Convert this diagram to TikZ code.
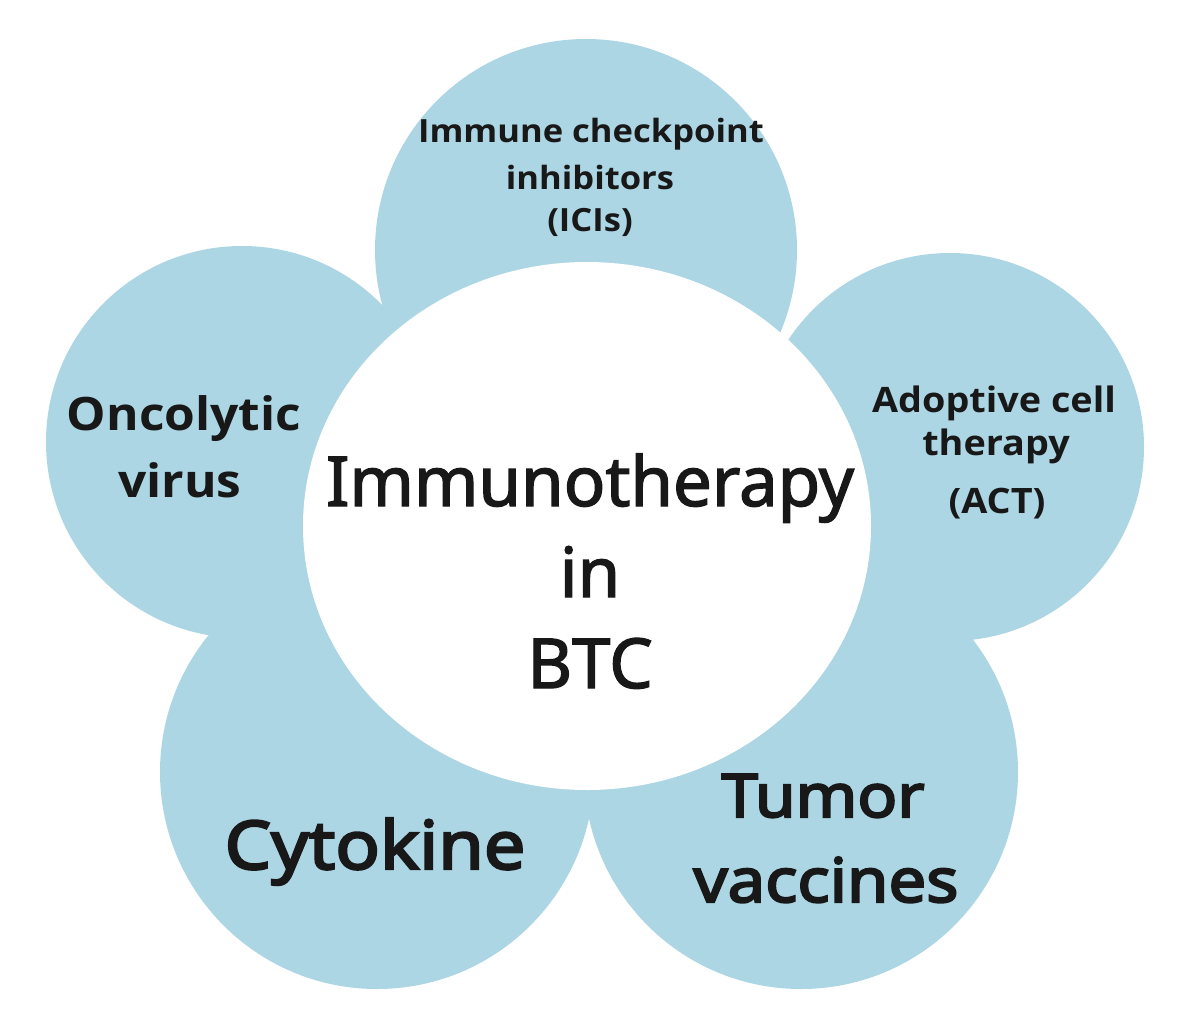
\documentclass[tikz,border=0pt]{standalone}
\usepackage{fontspec}
\setmainfont{Noto Sans}
\newfontfamily\hfont[FakeStretch=1.08]{Open Sans}
\newfontfamily\gfont[FakeBold=2]{Noto Sans}
\newfontfamily\gmfont[FakeStretch=1.1,FakeBold=3.5]{Noto Sans}
\definecolor{petalblue}{RGB}{172,214,228}
\definecolor{ink}{RGB}{24,24,24}
\tikzset{
  petal/.style={circle, fill=petalblue, inner sep=0pt, draw=none},
  hlab/.style={anchor=base, inner sep=0pt, text=ink, font=\hfont\bfseries\fontsize{#1}{#1}\selectfont},
  glab/.style={anchor=base, inner sep=0pt, text=ink, font=\gfont\fontsize{#1}{#1}\selectfont},
  gmlab/.style={anchor=base, inner sep=0pt, text=ink, font=\gmfont\fontsize{#1}{#1}\selectfont},
}
\begin{document}
\begin{tikzpicture}[x=1pt,y=-1pt]
\useasboundingbox (0,0) rectangle (1200,1023);
\fill[white] (0,0) rectangle (1200,1023);
% petals
\node[petal, minimum size=422pt] (ptop) at (586,250) {};
\node[petal, minimum size=392pt] (pleft) at (242,442) {};
\node[petal, minimum size=388pt] (pright) at (950,447) {};
\node[petal, minimum size=434pt] (pbl) at (377,772) {};
\node[petal, minimum size=434pt] (pbr) at (801,772) {};
% centre
\fill[white] (587,526) ellipse [x radius=284, y radius=264];
\coordinate (ctr) at (587,526);
% top petal text
\node[hlab=32] (t1) at (591,142) {Immune checkpoint};
\node[hlab=32] (t2) at (590,189) {inhibitors};
\node[hlab=32] (t3) at (590,231) {(ICIs)};
% left petal
\node[hlab=46] (l1) at (184,430) {Oncolytic};
\node[hlab=46] (l2) at (180,497) {virus};
% right petal
\node[hlab=35] (r1) at (994,412) {Adoptive cell};
\node[hlab=35] (r2) at (996,455) {therapy};
\node[hlab=35] (r3) at (997,513) {(ACT)};
% centre text
\node[glab=69] (c1) at (590,506) {Immunotherapy};
\node[glab=69] (c2) at (590,597) {in};
\node[glab=69] (c3) at (590,688) {BTC};
% bottom petals
\node[gmlab=67] (b1) at (375,869) {Cytokine};
\node[gmlab=60] (b2) at (823,817) {Tumor};
\node[gmlab=61] (b3) at (826,902) {vaccines};
\end{tikzpicture}
\end{document}
